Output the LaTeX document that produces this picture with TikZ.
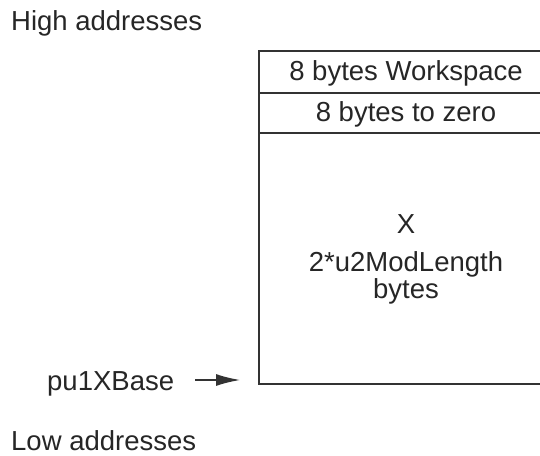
\documentclass[tikz,border=0pt]{standalone}
\usepackage{fontspec}
\setmainfont{Liberation Sans}
\usetikzlibrary{arrows.meta}

\begin{document}
\begin{tikzpicture}[x=1pt, y=-1pt,
    memtext/.style={font=\fontsize{27.5}{33}\selectfont, text=black!85, inner sep=0pt},
    memline/.style={draw=black!80, line width=1.4pt},
    ptr/.style={memline, -{Latex[length=24pt, width=12pt]}}]
        \useasboundingbox (0,0) rectangle (540,455);
        % memory block, right side runs off the page
        \draw[memline] (259,51) rectangle (553,384);
        \draw[memline] (259,93) -- (553,93);
        \draw[memline] (259,133) -- (553,133);
        \node[memtext, anchor=base] (workspace) at (406,80) {8 bytes Workspace};
        \node[memtext, anchor=base] (zeroes) at (406,121) {8 bytes to zero};
        \node[memtext, anchor=base] (xname) at (406,233) {X};
        \node[memtext, anchor=base] (xsize) at (406,271) {2*u2ModLength};
        \node[memtext, anchor=base] (xunit) at (406,298) {bytes};
        \node[memtext, anchor=base west] (high) at (11,30) {High addresses};
        \node[memtext, anchor=base west] (low) at (11,450) {Low addresses};
        \node[memtext, anchor=base west] (xbase) at (47,390) {pu1XBase};
        \coordinate (xbasetip) at (240,380);
        \draw[ptr, shorten <=21pt] (xbase.east |- xbasetip) -- (xbasetip);
      \end{tikzpicture}
\end{document}
